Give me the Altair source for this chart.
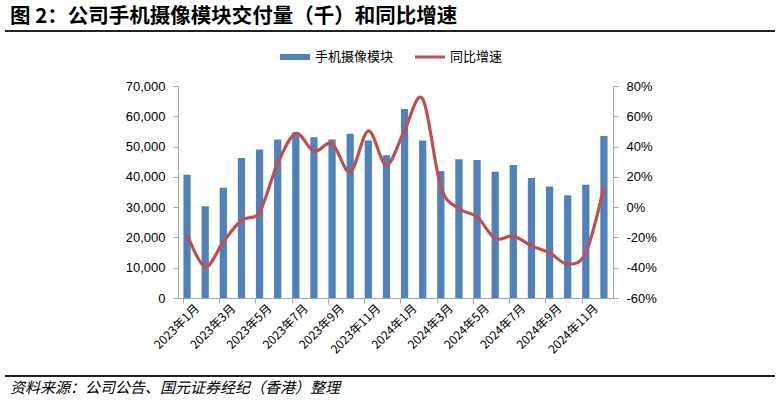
import altair as alt
import pandas as pd

# ---- data ----
months = [
    "2023年1月", "2023年2月", "2023年3月", "2023年4月", "2023年5月", "2023年6月",
    "2023年7月", "2023年8月", "2023年9月", "2023年10月", "2023年11月", "2023年12月",
    "2024年1月", "2024年2月", "2024年3月", "2024年4月", "2024年5月", "2024年6月",
    "2024年7月", "2024年8月", "2024年9月", "2024年10月", "2024年11月", "2024年12月",
]
shipments = [40700, 30300, 36400, 46200, 49000, 52300, 54700, 53100, 52300, 54200, 52000, 47100,
             62400, 52000, 41900, 45800, 45600, 41700, 43900, 39600, 36800, 33900, 37400, 53500]
yoy = [-18.0, -39.4, -22.9, -8.6, -3.1, 29.0, 48.6, 36.9, 42.0, 23.3, 50.3, 27.7,
       50.8, 71.5, 13.4, -1.0, -6.4, -20.7, -19.1, -25.5, -30.1, -37.6, -29.9, 13.4]
label_months = months[::2]
left_ticks = [0, 10000, 20000, 30000, 40000, 50000, 60000, 70000]
right_ticks = [-60, -40, -20, 0, 20, 40, 60, 80]
series_names = ["手机摄像模块", "同比增速"]
title_text = "图 2：公司手机摄像模块交付量（千）和同比增速"
source_text = "资料来源：公司公告、国元证券经纪（香港）整理"

BLUE = "#4F81BD"
RED = "#C0504D"
AXIS_GREY = "#A6A6A6"
NUM_FONT = "Liberation Sans"
CJK_FONT = "Noto Sans CJK SC"

df = pd.DataFrame({"month": months, "shipments": shipments, "yoy": yoy})
one = pd.DataFrame({"k": [0]})

x_scale = alt.Scale(domain=months, paddingInner=0.6, paddingOuter=0.3)
x_axis = alt.Axis(
    values=label_months, bandPosition=0, labelOffset=10, labelAngle=-45,
    labelAlign="right", labelBaseline="middle", labelFont=CJK_FONT, labelFontSize=12,
    labelColor="#000000", domainColor=AXIS_GREY, tickColor=AXIS_GREY, tickSize=5,
    labelPadding=3, grid=False, title=None,
)

bars = alt.Chart(df).mark_bar(color=BLUE).encode(
    x=alt.X("month:N", sort=months, scale=x_scale, axis=x_axis),
    y=alt.Y("shipments:Q", scale=alt.Scale(domain=[0, 70000], nice=False),
            axis=alt.Axis(values=left_ticks, format=",d", grid=False, title=None,
                          labelFont=NUM_FONT, labelFontSize=13, labelColor="#000000",
                          domainColor=AXIS_GREY, tickColor=AXIS_GREY, tickSize=5,
                          labelPadding=8)),
)

line = alt.Chart(df).mark_line(color=RED, strokeWidth=3.2, interpolate="cardinal").encode(
    x=alt.X("month:N", sort=months, scale=x_scale),
    y=alt.Y("yoy:Q", scale=alt.Scale(domain=[-60, 80], nice=False),
            axis=alt.Axis(orient="right", values=right_ticks, labelExpr="datum.value + '%'",
                          grid=False, title=None, labelFont=NUM_FONT, labelFontSize=13,
                          labelColor="#000000", domainColor=AXIS_GREY, tickColor=AXIS_GREY,
                          tickSize=5, labelPadding=8)),
)

# ---- decorations: title, rules, legend, source ----
title = alt.Chart(one).mark_text(
    align="left", baseline="middle", font=CJK_FONT, fontSize=20.5, fontWeight="bold", color="#000000"
).encode(x=alt.value(-168), y=alt.value(-69), text=alt.value(title_text))

top_rule = alt.Chart(one).mark_rule(color="#222222", strokeWidth=2).encode(
    x=alt.value(-173), x2=alt.value(597), y=alt.value(-55))
bottom_rule = alt.Chart(one).mark_rule(color="#222222", strokeWidth=2).encode(
    x=alt.value(-173), x2=alt.value(597), y=alt.value(290))

source = alt.Chart(one).mark_text(
    align="left", baseline="middle", font=CJK_FONT, fontSize=15, fontStyle="italic", color="#000000"
).encode(x=alt.value(-168), y=alt.value(302), text=alt.value(source_text))

leg_bar = alt.Chart(one).mark_rule(color=BLUE, strokeWidth=6).encode(
    x=alt.value(102), x2=alt.value(132), y=alt.value(-29))
leg_bar_txt = alt.Chart(one).mark_text(
    align="left", baseline="middle", font=CJK_FONT, fontSize=13, color="#000000"
).encode(x=alt.value(137), y=alt.value(-29), text=alt.value(series_names[0]))
leg_line = alt.Chart(one).mark_rule(color=RED, strokeWidth=3).encode(
    x=alt.value(237), x2=alt.value(267), y=alt.value(-29))
leg_line_txt = alt.Chart(one).mark_text(
    align="left", baseline="middle", font=CJK_FONT, fontSize=13, color="#000000"
).encode(x=alt.value(272), y=alt.value(-29), text=alt.value(series_names[1]))

chart = alt.layer(
    bars, line, title, top_rule, bottom_rule, source, leg_bar, leg_bar_txt, leg_line, leg_line_txt
).resolve_scale(y="independent").properties(
    width=435, height=212,
    padding={"left": 178, "top": 86, "right": 167, "bottom": 108},
    autosize=alt.AutoSizeParams(type="none"),
    background="#FFFFFF",
).configure_view(stroke=None)

chart.save("out.html", embed_options={"renderer": "svg", "actions": False})
